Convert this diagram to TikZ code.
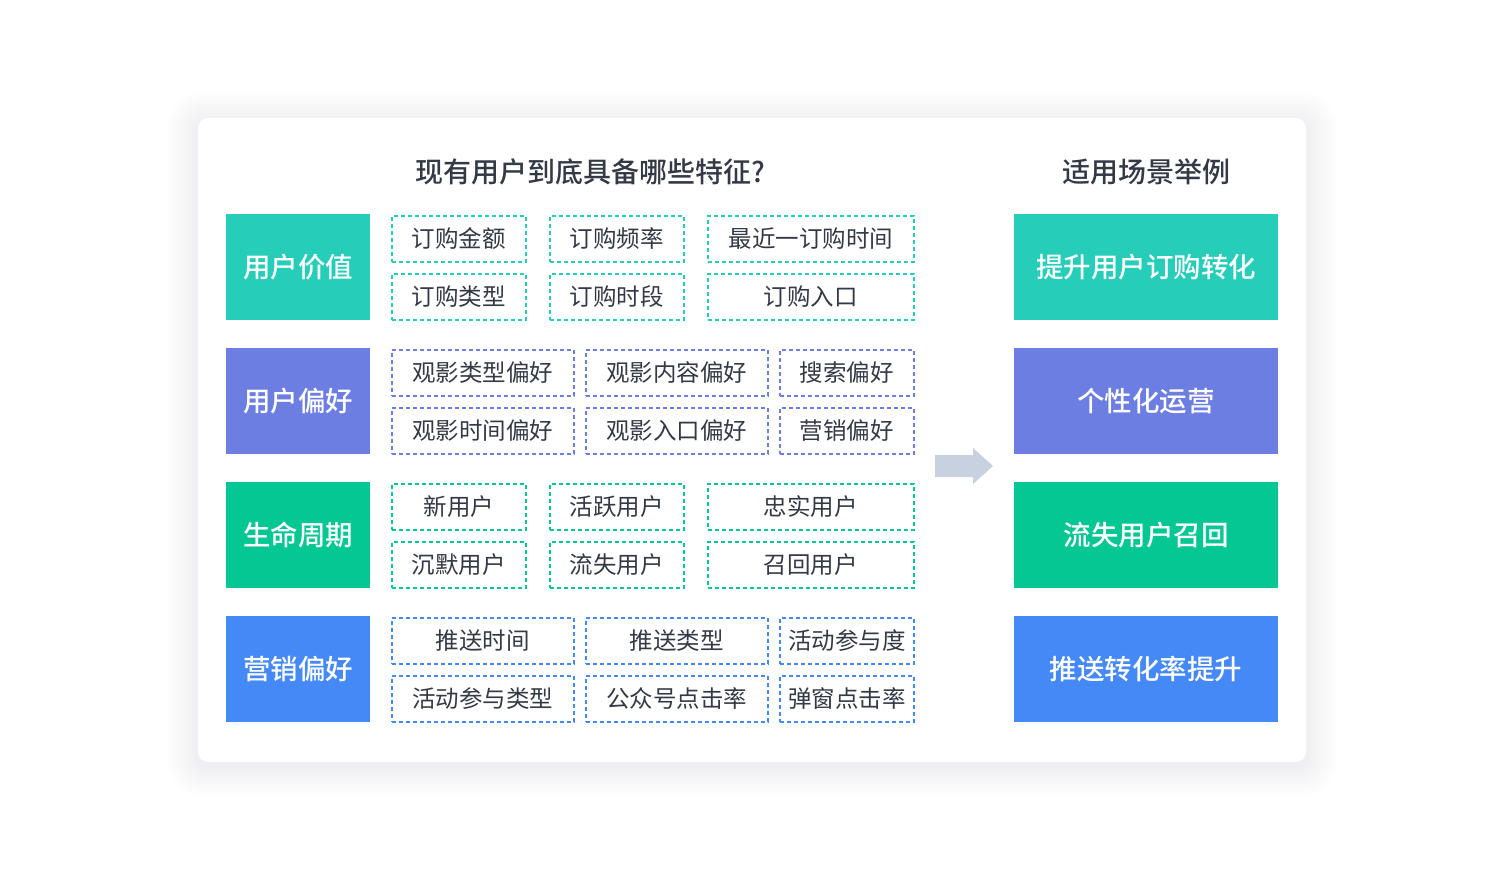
\documentclass[tikz,border=0pt]{standalone}
\usepackage{fontspec}
\setmainfont{Noto Sans CJK SC}[BoldFont={Noto Sans CJK SC Medium}]
\usetikzlibrary{positioning}
\definecolor{cteal}{HTML}{26CDB8}
\definecolor{cpurple}{HTML}{6C7EE1}
\definecolor{cgreen}{HTML}{05C793}
\definecolor{cblue}{HTML}{4589F7}
\definecolor{ctext}{HTML}{333A46}
\definecolor{carrow}{HTML}{C8D1E0}
\definecolor{cshadow}{HTML}{D9DDE5}
\tikzset{
  labelbox/.style={fill=#1, text=white, font=\fontsize{27.5}{32}\selectfont\bfseries, inner sep=0pt, anchor=north west},
  dbox/.style={draw=#1, dash pattern=on 4pt off 3pt, line width=1.5pt, text=ctext, font=\fontsize{23.5}{28}\selectfont, inner sep=0pt, anchor=north west},
  title/.style={text=ctext, font=\fontsize{28}{32}\selectfont\bfseries}
}
\newcommand{\lbox}[6]{\node[labelbox=#1, minimum width=#4pt, minimum height=#5pt] (#2) at (#3) {#6};}
\newcommand{\dbx}[6]{\node[dbox=#1, minimum width=#4pt, minimum height=#5pt] (#2) at (#3) {#6};}
\begin{document}
\begin{tikzpicture}[x=1pt,y=-1pt]
\useasboundingbox (0,0) rectangle (1502,880);
\fill[white] (0,0) rectangle (1502,880);
% soft shadow
\foreach \s in {30,26,22,18,14,10,6,3}{
  \fill[cshadow, opacity=0.05, rounded corners=\s pt+8pt] (198-\s,118-\s+4) rectangle (1306+\s,762+\s+4);
}
\fill[white, rounded corners=10pt] (198,118) rectangle (1306,762);
% titles
\node[title] (t1) at (590,172) {现有用户到底具备哪些特征?};
\node[title] (t2) at (1146,172) {适用场景举例};
% left labels
\lbox{cteal}{L1}{226,214}{144}{106}{用户价值}
\lbox{cpurple}{L2}{226,348}{144}{106}{用户偏好}
\lbox{cgreen}{L3}{226,482}{144}{106}{生命周期}
\lbox{cblue}{L4}{226,616}{144}{106}{营销偏好}
% right labels
\lbox{cteal}{R1}{1014,214}{264}{106}{提升用户订购转化}
\lbox{cpurple}{R2}{1014,348}{264}{106}{个性化运营}
\lbox{cgreen}{R3}{1014,482}{264}{106}{流失用户召回}
\lbox{cblue}{R4}{1014,616}{264}{106}{推送转化率提升}
% row 1
\dbx{cteal}{a1}{391,215}{134}{46}{订购金额}
\dbx{cteal}{a2}{549,215}{134}{46}{订购频率}
\dbx{cteal}{a3}{707,215}{206}{46}{最近一订购时间}
\dbx{cteal}{a4}{391,273}{134}{46}{订购类型}
\dbx{cteal}{a5}{549,273}{134}{46}{订购时段}
\dbx{cteal}{a6}{707,273}{206}{46}{订购入口}
% row 2
\dbx{cpurple}{b1}{391,349}{182}{46}{观影类型偏好}
\dbx{cpurple}{b2}{585,349}{182}{46}{观影内容偏好}
\dbx{cpurple}{b3}{779,349}{134}{46}{搜索偏好}
\dbx{cpurple}{b4}{391,407}{182}{46}{观影时间偏好}
\dbx{cpurple}{b5}{585,407}{182}{46}{观影入口偏好}
\dbx{cpurple}{b6}{779,407}{134}{46}{营销偏好}
% row 3
\dbx{cgreen}{c1}{391,483}{134}{46}{新用户}
\dbx{cgreen}{c2}{549,483}{134}{46}{活跃用户}
\dbx{cgreen}{c3}{707,483}{206}{46}{忠实用户}
\dbx{cgreen}{c4}{391,541}{134}{46}{沉默用户}
\dbx{cgreen}{c5}{549,541}{134}{46}{流失用户}
\dbx{cgreen}{c6}{707,541}{206}{46}{召回用户}
% row 4
\dbx{cblue}{d1}{391,617}{182}{46}{推送时间}
\dbx{cblue}{d2}{585,617}{182}{46}{推送类型}
\dbx{cblue}{d3}{779,617}{134}{46}{活动参与度}
\dbx{cblue}{d4}{391,675}{182}{46}{活动参与类型}
\dbx{cblue}{d5}{585,675}{182}{46}{公众号点击率}
\dbx{cblue}{d6}{779,675}{134}{46}{弹窗点击率}
% arrow
\fill[carrow] (935,455) -- (973,455) -- (973,448) -- (993,466) -- (973,484) -- (973,477) -- (935,477) -- cycle;
\end{tikzpicture}
\end{document}
